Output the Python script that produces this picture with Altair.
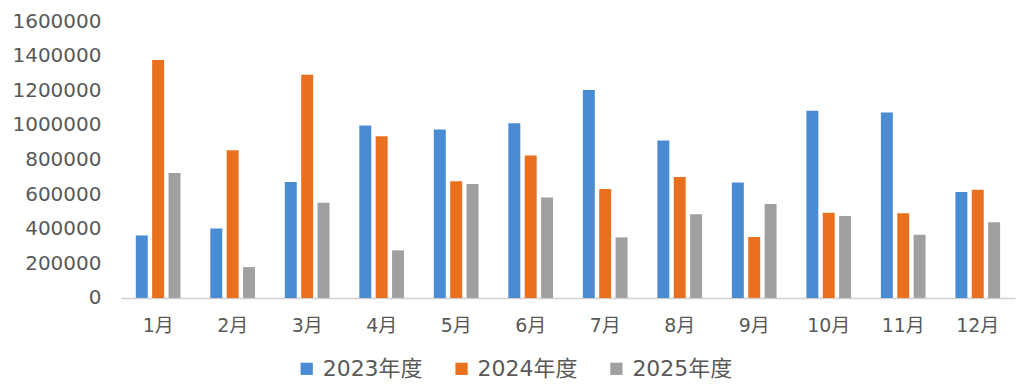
import altair as alt
import pandas as pd

months = ["1月", "2月", "3月", "4月", "5月", "6月", "7月", "8月", "9月", "10月", "11月", "12月"]
series = ["2023年度", "2024年度", "2025年度"]
v2023 = [361000, 401000, 670000, 997000, 974000, 1010000, 1202000, 910000, 667000, 1082000, 1072000, 613000]
v2024 = [1375000, 854000, 1290000, 934000, 675000, 823000, 629000, 699000, 352000, 493000, 489000, 626000]
v2025 = [722000, 178000, 550000, 275000, 659000, 581000, 350000, 484000, 543000, 474000, 365000, 437000]
colors = ["#4a8cd4", "#e9701f", "#a0a0a0"]

rows = []
for s, vals in zip(series, [v2023, v2024, v2025]):
    for m, v in zip(months, vals):
        rows.append({"month": m, "series": s, "value": v})
df = pd.DataFrame(rows)

font = "DejaVu Sans, Noto Sans CJK SC"

chart = alt.Chart(df).mark_bar().encode(
    x=alt.X("month:N", sort=months, title=None,
            scale=alt.Scale(paddingInner=0.4, paddingOuter=0.2),
            axis=alt.Axis(labelAngle=0, ticks=False, domainColor="#d0d0d0", domainWidth=1.5,
                          labelColor="#595959", labelFontSize=19, labelFont=font, labelPadding=19)),
    xOffset=alt.XOffset("series:N", sort=series, scale=alt.Scale(paddingInner=0.27)),
    y=alt.Y("value:Q", title=None,
            scale=alt.Scale(domain=[0, 1600000], nice=False),
            axis=alt.Axis(values=list(range(0, 1600001, 200000)), format="d", grid=False, ticks=False,
                          domain=False, labelColor="#595959", labelFontSize=20, labelFont=font,
                          labelPadding=20)),
    color=alt.Color("series:N", sort=series, title=None,
                    scale=alt.Scale(domain=series, range=colors),
                    legend=alt.Legend(orient="none", legendX=175, legendY=337,
                                      direction="horizontal", symbolType="square", symbolSize=150,
                                      symbolStrokeWidth=0, labelFontSize=22, labelFont=font,
                                      labelColor="#595959", columnPadding=28, labelOffset=5)),
).properties(
    width=895, height=277,
    padding={"left": 3, "top": 3, "right": 5, "bottom": 5},
).configure_view(stroke=None)

chart.save("out.html", embed_options={"renderer": "svg", "actions": False})
